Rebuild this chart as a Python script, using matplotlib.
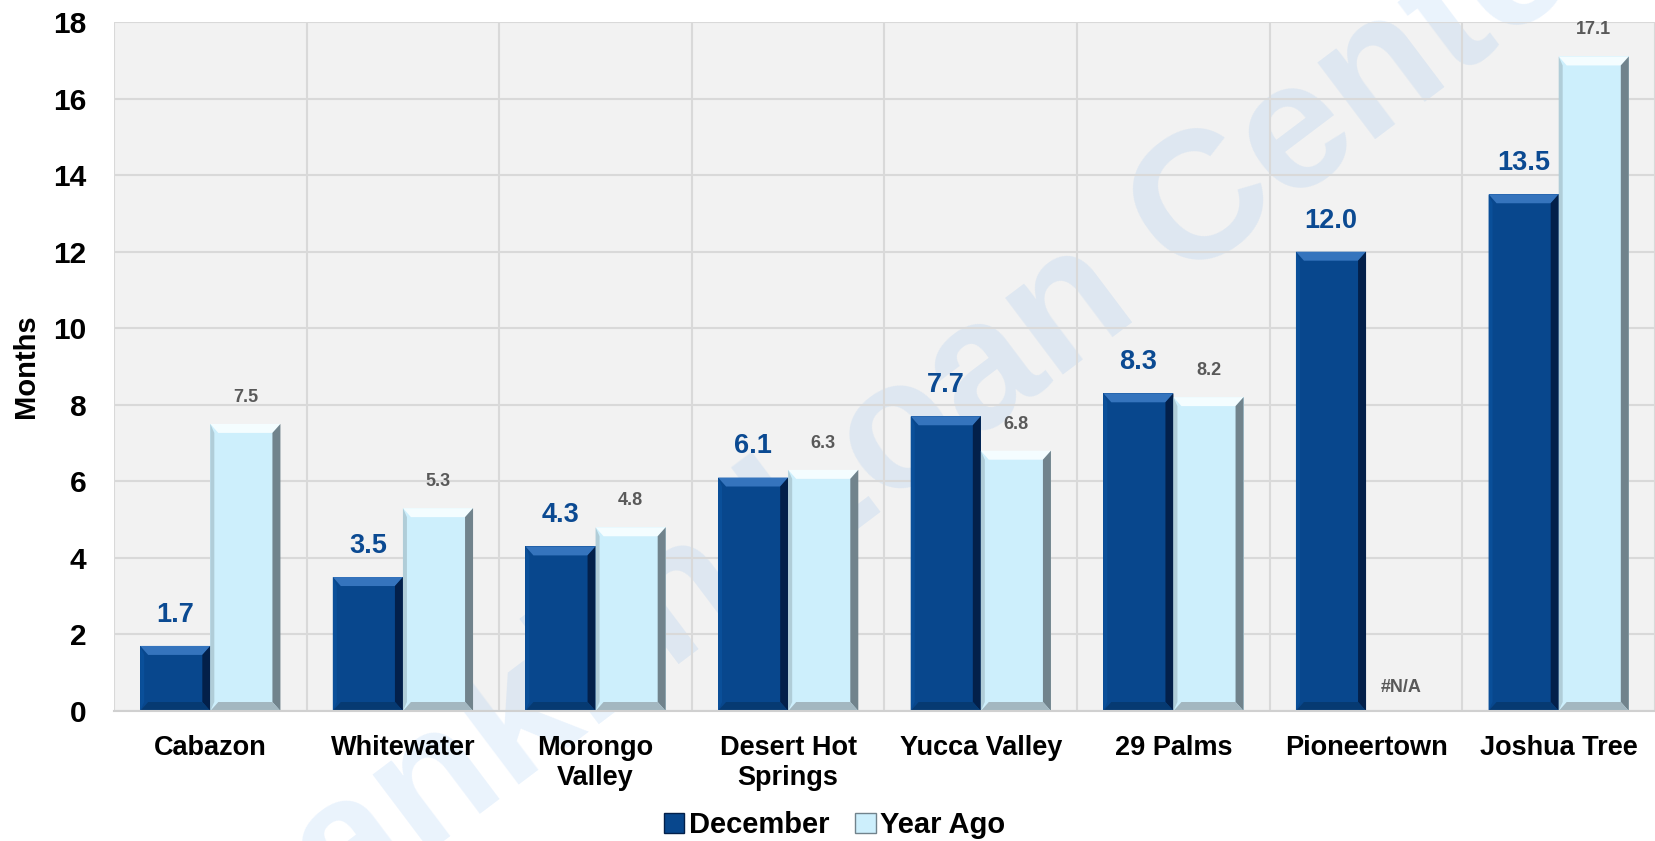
import numpy as np
import matplotlib
matplotlib.use('Agg')
import matplotlib.pyplot as plt
from matplotlib.patches import Polygon, Patch

# data
towns = ['Cabazon', 'Whitewater', 'Morongo\nValley', 'Desert Hot\nSprings',
         'Yucca Valley', '29 Palms', 'Pioneertown', 'Joshua Tree']
december = [1.7, 3.5, 4.3, 6.1, 7.7, 8.3, 12.0, 13.5]
year_ago = [7.5, 5.3, 4.8, 6.3, 6.8, 8.2, np.nan, 17.1]
series_names = ['December', 'Year Ago']
y_ticks = [0, 2, 4, 6, 8, 10, 12, 14, 16, 18]

plt.rcParams['font.family'] = ['Liberation Sans', 'DejaVu Sans']
plt.rcParams['font.weight'] = 'bold'

W, H = 16.56, 8.41
fig = plt.figure(figsize=(W, H), dpi=100)
ax_pos = [114 / 1656, 1 - 711 / 841, 1541 / 1656, 689 / 841]
ax = fig.add_axes(ax_pos)
ax.set_facecolor('#f2f2f2')
ax.set_axisbelow(True)

x = np.arange(len(towns))
bw = 0.364
ax.set_xlim(-0.5, len(towns) - 0.5)
ax.set_ylim(0, 18)

# palettes: main face, top, right, left, bottom bevel
dark = dict(face='#08478d', top='#3574bd', right='#03204a', left='#0a4f99', bottom='#063a72')
light = dict(face='#cdeffc', top='#f4fdff', right='#71838c', left='#b0cdd8', bottom='#a3b7c0')

# bevel size in data units (about 8 px)
px_x = ax_pos[2] * W * 100 / len(towns)
px_y = ax_pos[3] * H * 100 / 18
bx, by = 8 / px_x, 9 / px_y


def bevel_bar(xc, val, pal):
    if np.isnan(val):
        return
    ax.bar(xc, val, bw, color=pal['face'], zorder=2, linewidth=0)
    x0, x1 = xc - bw / 2, xc + bw / 2
    y0, y1 = 0, val
    b = min(by, val / 2)
    sides = [
        ([(x0, y1), (x1, y1), (x1 - bx, y1 - b), (x0 + bx, y1 - b)], pal['top']),
        ([(x1, y1), (x1, y0), (x1 - bx, y0 + b), (x1 - bx, y1 - b)], pal['right']),
        ([(x0, y1), (x0, y0), (x0 + bx * 0.5, y0 + b), (x0 + bx * 0.5, y1 - b)], pal['left']),
        ([(x0, y0), (x1, y0), (x1 - bx, y0 + b), (x0 + bx, y0 + b)], pal['bottom']),
    ]
    for pts, c in sides:
        ax.add_patch(Polygon(pts, closed=True, facecolor=c, edgecolor='none', zorder=3))


for i in range(len(towns)):
    bevel_bar(x[i] - bw / 2, december[i], dark)
    bevel_bar(x[i] + bw / 2, year_ago[i], light)
    ax.annotate(f'{december[i]:.1f}', (x[i] - bw / 2, december[i]), xytext=(0, 13),
                textcoords='offset points', ha='center', va='bottom',
                fontsize=19.5, color='#0b4a92', fontweight='bold', zorder=5)
    if np.isnan(year_ago[i]):
        ax.annotate('#N/A', (x[i] + bw / 2, 0), xytext=(0, 11),
                    textcoords='offset points', ha='center', va='bottom',
                    fontsize=13, color='#595959', fontweight='bold', zorder=5)
    else:
        ax.annotate(f'{year_ago[i]:.1f}', (x[i] + bw / 2, year_ago[i]), xytext=(0, 13),
                    textcoords='offset points', ha='center', va='bottom',
                    fontsize=13, color='#595959', fontweight='bold', zorder=5)

# grid
ax.set_yticks(y_ticks)
ax.set_xticks(x)
ax.set_xticks(np.arange(len(towns) + 1) - 0.5, minor=True)
ax.set_xticklabels(towns, fontsize=19.5, fontweight='bold')
ax.set_yticklabels([str(t) for t in y_ticks], fontsize=21.5, fontweight='bold')
ax.grid(axis='y', which='major', color='#d9d9d9', linewidth=1.5)
ax.grid(axis='x', which='minor', color='#d9d9d9', linewidth=1.5)
ax.tick_params(axis='both', which='both', length=0)
ax.tick_params(axis='y', pad=20)
ax.tick_params(axis='x', pad=17)
for s in ['top', 'right', 'left']:
    ax.spines[s].set_visible(False)
ax.spines['bottom'].set_color('#d0d0d0')
ax.spines['bottom'].set_linewidth(1.5)
ax.spines['bottom'].set_zorder(4)

ax.set_ylabel('Months', fontsize=21, fontweight='bold')
ax.yaxis.set_label_coords(-0.048, 0.5)

# watermark, behind bars and grid
ax.text(0.537, 0.4685, 'Franklin Loan Center', transform=fig.transFigure,
        rotation=37, rotation_mode='anchor', ha='center', va='center',
        fontsize=130, fontweight='bold', color='#2b86ea', alpha=0.1,
        zorder=0.2, clip_on=False)

handles = [Patch(facecolor=dark['face'], edgecolor=dark['right']),
           Patch(facecolor=light['face'], edgecolor=light['right'])]
fig.legend(handles, series_names, loc='center', bbox_to_anchor=(0.504, 0.019),
           ncol=2, frameon=False, prop={'size': 21, 'weight': 'bold'},
           handlelength=0.7, handleheight=0.7, handletextpad=0.15,
           columnspacing=0.9, borderaxespad=0, borderpad=0)

fig.savefig('out.png', dpi=100)
